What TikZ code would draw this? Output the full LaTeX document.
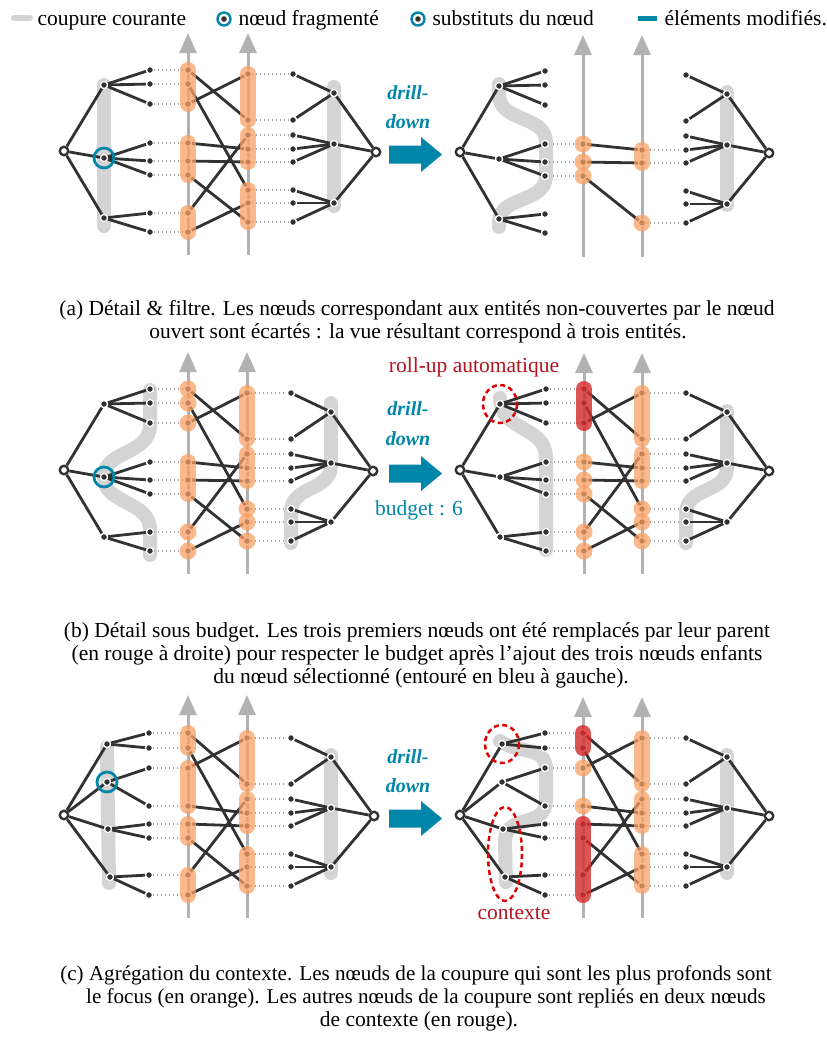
\documentclass[tikz,border=0pt]{standalone}
\usepackage{fontspec}
\setmainfont{Liberation Serif}
\usetikzlibrary{arrows.meta}
\pgfdeclarelayer{cutl}\pgfdeclarelayer{edgel}\pgfdeclarelayer{hl}\pgfdeclarelayer{topl}
\pgfsetlayers{cutl,edgel,main,hl,topl}
\definecolor{ink}{RGB}{50,50,50}
\definecolor{cutgray}{RGB}{212,212,212}
\definecolor{axisgray}{RGB}{178,178,178}
\definecolor{dotgray}{RGB}{165,165,165}
\definecolor{hlorange}{RGB}{250,160,100}
\definecolor{hlred}{RGB}{214,45,45}
\definecolor{tealc}{RGB}{0,134,168}
\definecolor{redtxt}{RGB}{180,20,30}
\definecolor{reddash}{RGB}{225,0,0}
\tikzset{
 dotn/.style={circle,fill=ink,draw=white,line width=1.2pt,inner sep=0pt,minimum size=7pt},
 rootn/.style={circle,fill=white,draw=ink,line width=2.4pt,inner sep=0pt,minimum size=8.5pt},
 edge/.style={draw=ink,line width=2.8pt},
 dotl/.style={draw=dotgray,line width=1.3pt,dash pattern=on 1.3pt off 2.7pt},
 cutline/.style={draw=cutgray,line width=14pt,line cap=round,line join=round},
 axisl/.style={draw=axisgray,line width=3pt,-{Triangle[width=17pt,length=20pt]}},
 capo/.style={draw=hlorange,line width=16pt,line cap=round,draw opacity=0.75},
 capr/.style={draw=hlred,line width=16pt,line cap=round,draw opacity=0.82},
 circo/.style={fill=hlorange,fill opacity=0.75},
 redd/.style={draw=reddash,line width=2.5pt,dash pattern=on 5pt off 3.5pt},
 dd/.style={text=tealc,anchor=base,font=\fontsize{20}{24}\bfseries\itshape\selectfont},
 captext/.style={anchor=base,font=\fontsize{21.5}{24}\selectfont},
 capsm/.style={anchor=base,font=\fontsize{21.1}{24}\selectfont},
 lgt/.style={anchor=base west,font=\fontsize{21.5}{24}\selectfont},
 lbl/.style={anchor=base,font=\fontsize{21.5}{24}\selectfont},
 lgring/.style={circle,draw=tealc,line width=2.4pt,minimum size=13pt,inner sep=0pt},
}
\newcommand\setX[8]{\def\PXr{#1}\def\PXm{#2}\def\PXl{#3}\def\PXa{#4}\def\PXb{#5}\def\PXs{#6}\def\PXn{#7}\def\PXR{#8}}
\newcommand\axes[3]{%
 \coordinate (#1A) at (\PXa,0); \coordinate (#1B) at (\PXb,0);
 \coordinate (#1At) at (\PXa,#2); \coordinate (#1Ab) at (\PXa,#3);
 \coordinate (#1Bt) at (\PXb,#2); \coordinate (#1Bb) at (\PXb,#3);
 \begin{pgfonlayer}{cutl}\draw[axisl] (#1Ab) -- (#1At); \draw[axisl] (#1Bb) -- (#1Bt);\end{pgfonlayer}}
\newcommand\leftA[2]{%
 \node[rootn] (#1r) at (\PXr,#2+151) {};
 \foreach \i/\y in {1/85,2/158,3/218} {\node[dotn] (#1m\i) at (\PXm,#2+\y) {};}
 \foreach \i/\y in {1/70,2/84,3/104,4/143,5/161,6/175,7/213,8/232} {\node[dotn] (#1l\i) at (\PXl,#2+\y) {};}
 \begin{pgfonlayer}{edgel}
 \foreach \i in {1,2,3} {\draw[edge] (#1r) -- (#1m\i);}
 \foreach \m/\l in {1/1,1/2,1/3,2/4,2/5,2/6,3/7,3/8} {\draw[edge] (#1m\m) -- (#1l\l);}
 \end{pgfonlayer}}
\newcommand\leftC[1]{%
 \node[rootn] (#1r) at (\PXr,815) {};
 \foreach \i/\dx/\y in {1/0/744,2/0/782,3/1/829,4/3/877} {\node[dotn] (#1m\i) at (\PXm+\dx,\y) {};}
 \foreach \i/\y in {1/733,2/748,3/768,4/806,5/824,6/838,7/875,8/895} {\node[dotn] (#1l\i) at (\PXl,\y) {};}
 \begin{pgfonlayer}{edgel}
 \foreach \i in {1,2,3,4} {\draw[edge] (#1r) -- (#1m\i);}
 \foreach \m/\l in {1/1,1/2,2/3,2/4,3/5,3/6,4/7,4/8} {\draw[edge] (#1m\m) -- (#1l\l);}
 \end{pgfonlayer}}
\newcommand\rightA[2]{%
 \foreach \i/\y in {1/74,2/120,3/135,4/149,5/162,6/190,7/203,8/222} {\node[dotn] (#1s\i) at (\PXs,#2+\y) {};}
 \foreach \i/\y in {1/93,2/144,3/203} {\node[dotn] (#1n\i) at (\PXn,#2+\y) {};}
 \node[rootn] (#1R) at (\PXR,#2+152) {};
 \begin{pgfonlayer}{edgel}
 \foreach \i in {1,2,3} {\draw[edge] (#1R) -- (#1n\i);}
 \foreach \m/\l in {1/1,1/2,2/3,2/4,2/5,3/6,3/7,3/8} {\draw[edge] (#1n\m) -- (#1s\l);}
 \end{pgfonlayer}}
\newcommand\pts[2]{\foreach \i in {#2} {\node[dotn] (#1p\i) at (#1l\i -| #1A) {};
 \begin{pgfonlayer}{edgel}\draw[dotl] (#1l\i) -- (#1p\i);\end{pgfonlayer}}}
\newcommand\qts[2]{\foreach \i in {#2} {\node[dotn] (#1q\i) at (#1s\i -| #1B) {};
 \begin{pgfonlayer}{edgel}\draw[dotl] (#1q\i) -- (#1s\i);\end{pgfonlayer}}}
\newcommand\links[2]{\begin{pgfonlayer}{edgel}\foreach \a/\b in {#2} {\draw[edge] (#1p\a) -- (#1q\b);}\end{pgfonlayer}}
\newcommand\capO[2]{\begin{pgfonlayer}{hl}\draw[capo] (#1.center) -- (#2.center);\end{pgfonlayer}}
\newcommand\capR[2]{\begin{pgfonlayer}{hl}\draw[capr] (#1.center) -- (#2.center);\end{pgfonlayer}}
\newcommand\cirO[1]{\begin{pgfonlayer}{hl}\foreach \c in {#1} {\fill[circo] (\c.center) circle (8.5);}\end{pgfonlayer}}
\newcommand\bluering[1]{\begin{pgfonlayer}{topl}\draw[tealc,line width=2.8pt] (#1.center) circle (10);\end{pgfonlayer}}
\newcommand\bigarrow[1]{\fill[tealc] (389,#1-9) -- (421,#1-9) -- (421,#1-17.5) -- (442,#1) -- (421,#1+17.5) -- (421,#1+9) -- (389,#1+9) -- cycle;}
\begin{document}
\begin{tikzpicture}[x=1pt,y=-1pt]
\useasboundingbox (0,0) rectangle (827,1037);
% legend
\coordinate (lgA) at (14,18); \coordinate (lgB) at (30,18);
\draw[cutline,line width=6pt] (lgA) -- (lgB);
\node[lgt] (lgt1) at (34,25) {coupure courante};
\node[lgring] (lg2) at (224,19) {};
\fill[ink] (lg2.center) circle (2.8);
\node[lgt] (lgt2) at (235,25) {nœud fragmenté};
\node[lgring] (lg3) at (418,19) {};
\fill[ink] (lg3.center) circle (2.8);
\node[lgt] (lgt3) at (429,25) {substituts du nœud};
\coordinate (lgC) at (638,18); \coordinate (lgD) at (657,18);
\draw[tealc,line width=5pt] (lgC) -- (lgD);
\node[lgt] (lgt4) at (661,25) {éléments modifiés.};

% ===== panel a left
\setX{64}{104}{150}{188}{248}{293}{334}{376}
\axes{aL}{33}{255}
\begin{pgfonlayer}{cutl}
\draw[cutline] (104,85) -- (104,226);
\draw[cutline] (334,87) -- (334,206);
\end{pgfonlayer}
\leftA{aL}{0}\rightA{aL}{0}
\pts{aL}{1,2,3,4,5,6,7,8}\qts{aL}{1,2,3,4,5,6,7,8}
\links{aL}{1/2,2/6,3/1,4/4,5/5,6/8,7/3,8/7}
\capO{aLp1}{aLp3}\capO{aLp4}{aLp6}\capO{aLp7}{aLp8}
\capO{aLq1}{aLq2}\capO{aLq3}{aLq5}\capO{aLq6}{aLq8}
\bluering{aLm2}
% ===== panel a right
\setX{460}{499}{545}{583}{642}{686}{727}{769}
\axes{aR}{35}{257}
\begin{pgfonlayer}{cutl}
\draw[cutline] (499,84) -- (499,95) .. controls (499,122) and (546,115) .. (546,142) -- (546,176) .. controls (546,203) and (499,196) .. (499,222) -- (499,227);
\draw[cutline] (727,92) -- (727,205);
\end{pgfonlayer}
\leftA{aR}{1}\rightA{aR}{1}
\pts{aR}{4,5,6}\qts{aR}{4,5,8}
\links{aR}{4/4,5/5,6/8}
\cirO{aRp4,aRp5,aRp6,aRq8}\capO{aRq4}{aRq5}
% arrow a
\node[dd] (ddA1) at (408,99) {drill-};
\node[dd] (ddA2) at (408,128) {down};
\bigarrow{154.5}
\node[captext] (capA1) at (417,315) {(a) Détail \& filtre. Les nœuds correspondant aux entités non-couvertes par le nœud};
\node[captext] (capA2) at (418,338) {ouvert sont écartés : la vue résultant correspond à trois entités.};

% ===== panel b left
\setX{64}{104}{150}{188}{247}{291}{331}{373}
\axes{bL}{352}{574}
\begin{pgfonlayer}{cutl}
\draw[cutline] (150,390) -- (150,425) .. controls (150,455) and (104,450) .. (104,477) .. controls (104,505) and (150,500) .. (150,530) -- (150,555);
\draw[cutline] (331,403) -- (331,465) .. controls (331,492) and (291,485) .. (291,512) -- (291,543);
\end{pgfonlayer}
\leftA{bL}{319}\rightA{bL}{319}
\pts{bL}{1,2,3,4,5,6,7,8}\qts{bL}{1,2,3,4,5,6,7,8}
\links{bL}{1/2,2/6,3/1,4/4,5/5,6/8,7/3,8/7}
\cirO{bLp1,bLp2,bLp3,bLp7,bLp8,bLq6,bLq7,bLq8}\capO{bLp4}{bLp6}
\capO{bLq1}{bLq2}\capO{bLq3}{bLq5}
\bluering{bLm2}
% ===== panel b right
\setX{460}{500}{546}{584}{642}{686}{727}{769}
\axes{bR}{353}{574}
\begin{pgfonlayer}{cutl}
\draw[cutline] (500,398) .. controls (500,432) and (546,425) .. (546,458) -- (546,550);
\draw[cutline] (727,411) -- (727,468) .. controls (727,493) and (686,487) .. (686,513) -- (686,543);
\end{pgfonlayer}
\leftA{bR}{319}\rightA{bR}{319}
\pts{bR}{1,2,3,4,5,6,7,8}\qts{bR}{1,2,3,4,5,6,7,8}
\links{bR}{1/2,2/6,3/1,4/4,5/5,6/8,7/3,8/7}
\capR{bRp1}{bRp3}\cirO{bRp4,bRp5,bRp6,bRp7,bRp8,bRq6,bRq7,bRq8}
\capO{bRq1}{bRq2}\capO{bRq3}{bRq5}
\begin{pgfonlayer}{topl}\draw[redd] (bRm1.center) ellipse (17 and 19);\end{pgfonlayer}
\node[lbl,text=redtxt] (roll) at (474,372) {roll-up automatique};
\node[dd] (ddB1) at (408,415) {drill-};
\node[dd] (ddB2) at (408,445) {down};
\bigarrow{473.5}
\node[lbl,text=tealc] (budget) at (419,515) {budget : 6};
\node[captext] (capB1) at (417,637) {(b) Détail sous budget. Les trois premiers nœuds ont été remplacés par leur parent};
\node[captext] (capB2) at (417,660) {(en rouge à droite) pour respecter le budget après l’ajout des trois nœuds enfants};
\node[captext] (capB3) at (421,683) {du nœud sélectionné (entouré en bleu à gauche).};

% ===== panel c left
\setX{64}{107}{149}{188}{247}{291}{331}{374}
\axes{cL}{695}{918}
\begin{pgfonlayer}{cutl}
\draw[cutline] (107,747) -- (109,883);
\draw[cutline] (331,755) -- (331,873);
\end{pgfonlayer}
\leftC{cL}\rightA{cL}{664}
\pts{cL}{1,2,3,4,5,6,7,8}\qts{cL}{1,2,3,4,5,6,7,8}
\links{cL}{1/2,2/6,3/1,4/4,5/5,6/8,7/3,8/7}
\capO{cLp1}{cLp2}\capO{cLp3}{cLp4}\capO{cLp5}{cLp6}\capO{cLp7}{cLp8}
\capO{cLq1}{cLq2}\capO{cLq3}{cLq5}\capO{cLq6}{cLq8}
\bluering{cLm2}
% ===== panel c right
\setX{460}{502}{545}{583}{642}{686}{727}{769}
\axes{cR}{697}{918}
\begin{pgfonlayer}{cutl}
\draw[cutline] (500,741) .. controls (520,755) and (546,745) .. (546,770) -- (546,800) .. controls (546,830) and (505,812) .. (505,842) -- (506,882);
\draw[cutline] (727,755) -- (727,873);
\end{pgfonlayer}
\leftC{cR}\rightA{cR}{664}
\pts{cR}{1,2,3,4,5,6,7,8}\qts{cR}{1,2,3,4,5,6,7,8}
\links{cR}{1/2,2/6,3/1,4/4,5/5,6/8,7/3,8/7}
\capR{cRp1}{cRp2}\cirO{cRp3,cRp4}\capR{cRp5}{cRp8}
\capO{cRq1}{cRq2}\capO{cRq3}{cRq5}\capO{cRq6}{cRq8}
\begin{pgfonlayer}{topl}
\draw[redd] (cRm1.center) ellipse (17 and 19);
\draw[redd] (505,854) ellipse (17 and 47);
\end{pgfonlayer}
\node[lbl,text=redtxt] (ctx) at (514,919) {contexte};
\node[dd] (ddC1) at (408,763) {drill-};
\node[dd] (ddC2) at (408,792) {down};
\bigarrow{818.5}
\node[capsm] (capC1) at (416,980) {(c) Agrégation du contexte. Les nœuds de la coupure qui sont les plus profonds sont};
\node[capsm] (capC2) at (426,1003) {le focus (en orange). Les autres nœuds de la coupure sont repliés en deux nœuds};
\node[captext] (capC3) at (419,1026) {de contexte (en rouge).};
\end{tikzpicture}
\end{document}
